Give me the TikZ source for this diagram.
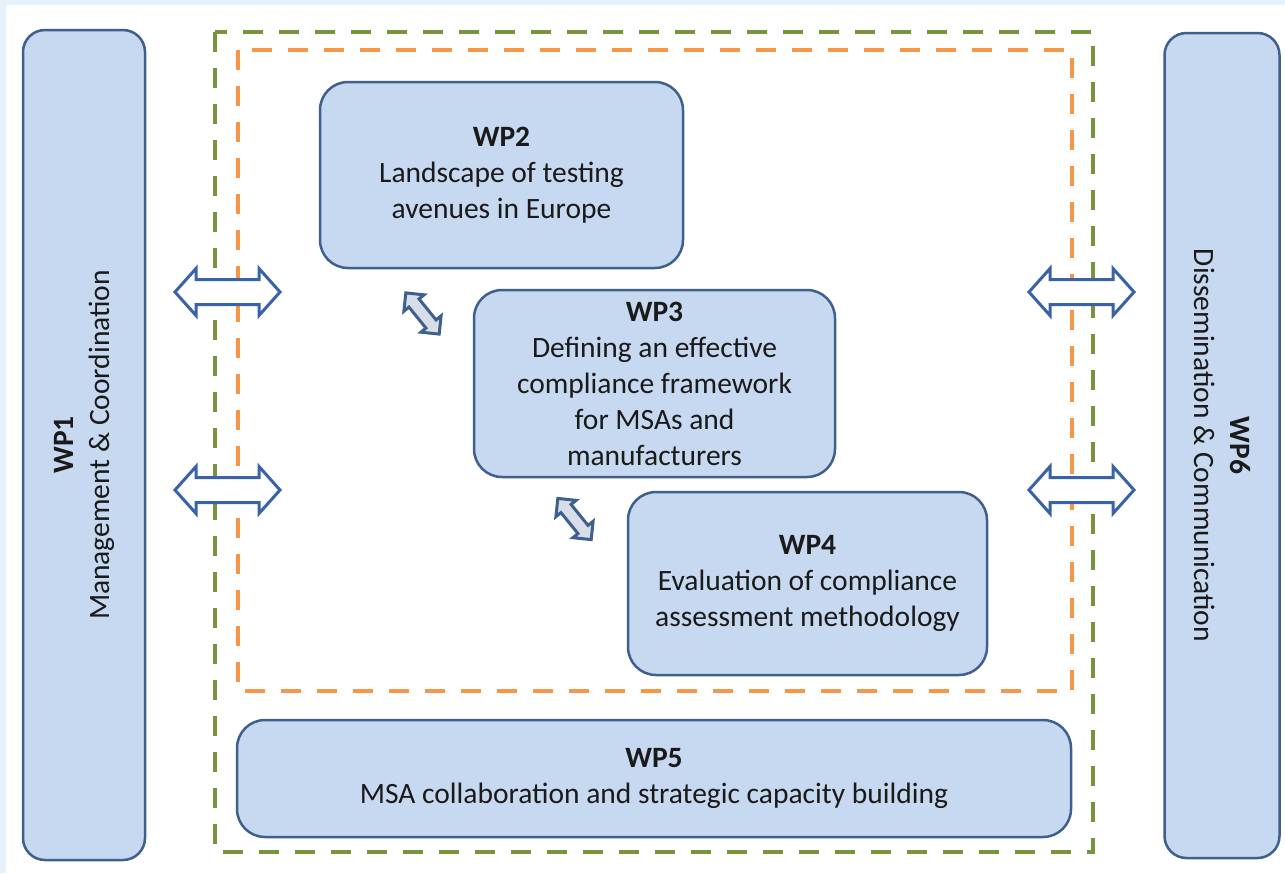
\documentclass[tikz,border=0pt]{standalone}
\usepackage{fontspec}
\setmainfont{Carlito}
\definecolor{bgblue}{HTML}{E5F1FB}
\definecolor{boxfill}{HTML}{C6D9F0}
\definecolor{boxline}{HTML}{3F5F8C}
\definecolor{arrline}{HTML}{3A62A8}
\definecolor{smallfill}{HTML}{D8DEE8}
\definecolor{greendash}{HTML}{77933C}
\definecolor{orangedash}{HTML}{F79646}
\definecolor{txt}{HTML}{1A1A1A}
\newcommand\DblArrow[8]{%
  \begin{scope}[shift={(#1,#2)}, rotate=#3]
    \draw[#8] (-#4,0) -- (-#4+#5,#6) -- (-#4+#5,#7) -- (#4-#5,#7) -- (#4-#5,#6) -- (#4,0)
      -- (#4-#5,-#6) -- (#4-#5,-#7) -- (-#4+#5,-#7) -- (-#4+#5,-#6) -- cycle;
  \end{scope}}
\tikzset{
  wpbox/.style={draw=boxline, fill=boxfill, line width=2.5pt, rounded corners=28pt,
    align=center, inner sep=0pt, text=txt, font=\fontsize{29.5}{36}\selectfont},
  sidebox/.style={wpbox, rounded corners=22pt},
  bigarrow/.style={draw=arrline, fill=white, line width=3pt, line join=miter},
  smallarrow/.style={draw=boxline, fill=smallfill, line width=3pt, line join=miter},
  greenframe/.style={draw=greendash, line width=4.5pt, dash pattern=on 20pt off 16pt},
  orangeframe/.style={draw=orangedash, line width=4pt, dash pattern=on 20pt off 16pt}
}
\begin{document}
\begin{tikzpicture}[x=1pt,y=1pt]
\useasboundingbox (0,0) rectangle (1285,-873);
\fill[white] (0,0) rectangle (1285,-873);
\fill[bgblue] (0,0) rectangle (1285,-5);
\fill[bgblue] (0,0) rectangle (6,-873);

% dashed frames
\draw[greenframe] (215,-32) rectangle (1093,-852);
\draw[orangeframe] (238,-50) rectangle (1072,-691);

% side boxes
\node[sidebox, rotate=90, minimum width=830pt, minimum height=122pt] (wp1) at (84,-445)
  {\textbf{WP1}\\Management \& Coordination};
\node[sidebox, rotate=-90, minimum width=825pt, minimum height=115pt] (wp6) at (1222,-445.5)
  {\textbf{WP6}\\Dissemination \& Communication};

% inner boxes
\node[wpbox, minimum width=363pt, minimum height=186pt] (wp2) at (501.5,-175)
  {\textbf{WP2}\\Landscape of testing\\avenues in Europe};
\node[wpbox, minimum width=361pt, minimum height=187pt] (wp3) at (654.5,-383.5)
  {\textbf{WP3}\\Defining an effective\\compliance framework\\for MSAs and\\manufacturers};
\node[wpbox, minimum width=359pt, minimum height=183pt] (wp4) at (807.5,-583.5)
  {\textbf{WP4}\\Evaluation of compliance\\assessment methodology};
\node[wpbox, minimum width=834pt, minimum height=117pt] (wp5) at (654,-778.5)
  {\textbf{WP5}\\MSA collaboration and strategic capacity building};

% big double arrows
\DblArrow{227.5}{-292}{0}{52.5}{21}{23.5}{12.5}{bigarrow}
\DblArrow{227.5}{-490}{0}{52.5}{21}{23.5}{12.5}{bigarrow}
\DblArrow{1081.5}{-292}{0}{52.5}{21}{23.5}{12.5}{bigarrow}
\DblArrow{1081.5}{-490}{0}{52.5}{21}{23.5}{12.5}{bigarrow}

% small diagonal double arrows
\DblArrow{422.5}{-313.5}{-51}{26.5}{13}{13}{6.5}{smallarrow}
\DblArrow{574.5}{-519}{-51}{26.5}{13}{13}{6.5}{smallarrow}
\end{tikzpicture}
\end{document}
